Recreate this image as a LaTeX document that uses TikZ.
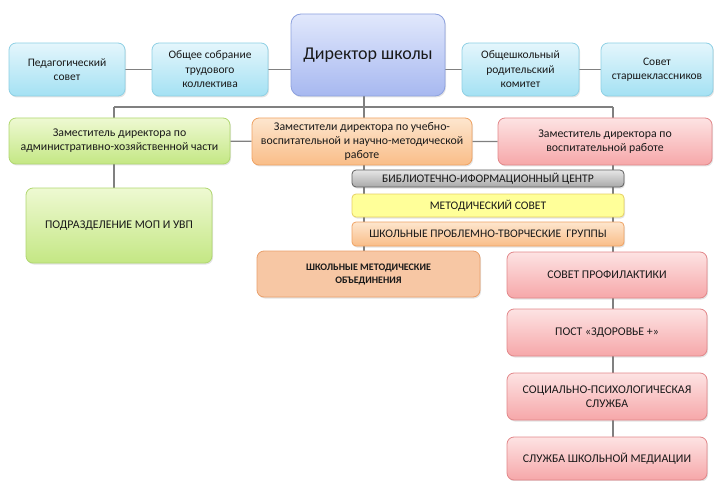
\documentclass[tikz,border=0pt]{standalone}
\usepackage{fontspec}
\setmainfont{Carlito}
\usetikzlibrary{shadows,backgrounds}

\definecolor{blueTop}{HTML}{E4F6FC}
\definecolor{blueBot}{HTML}{A4E1F3}
\definecolor{blueLine}{HTML}{8ED0E4}
\definecolor{dirTop}{HTML}{E1E8FC}
\definecolor{dirBot}{HTML}{A7B8F0}
\definecolor{dirLine}{HTML}{8DA1DE}
\definecolor{greenTop}{HTML}{EEF9D2}
\definecolor{greenBot}{HTML}{C4E784}
\definecolor{greenLine}{HTML}{B0D770}
\definecolor{orangeTop}{HTML}{FDE6CE}
\definecolor{orangeBot}{HTML}{F9BD88}
\definecolor{orangeLine}{HTML}{EFA263}
\definecolor{pinkTop}{HTML}{FDE3E3}
\definecolor{pinkBot}{HTML}{F6A7A9}
\definecolor{pinkLine}{HTML}{E2878A}
\definecolor{greyTop}{HTML}{E6E6E6}
\definecolor{greyBot}{HTML}{A9A9A9}
\definecolor{greyLine}{HTML}{5E5E5E}
\definecolor{yellowFill}{HTML}{FFFF99}
\definecolor{yellowLine}{HTML}{E6CF62}
\definecolor{shmoFill}{HTML}{F7C7A4}
\definecolor{shmoLine}{HTML}{E9A06C}

\begin{document}
\begin{tikzpicture}[x=1pt,y=-1pt]
    \tikzstyle{edge}=[draw,line width=1.1pt,-,black!50]
    \tikzstyle{box}=[draw,line width=.8pt,rounded corners=7pt,align=center,inner sep=2pt,text=black!90,font=\fontsize{11.8}{14}\selectfont,drop shadow={opacity=.22,shadow xshift=1pt,shadow yshift=-1.5pt}]
    \tikzstyle{council}=[box,top color=blueTop,bottom color=blueBot,draw=blueLine,minimum height=53pt,font=\fontsize{11.5}{14.5}\selectfont]
    \tikzstyle{director}=[box,top color=dirTop,bottom color=dirBot,draw=dirLine,rounded corners=10pt,font=\fontsize{18}{20}\selectfont]
    \tikzstyle{zamgreen}=[box,top color=greenTop,bottom color=greenBot,draw=greenLine]
    \tikzstyle{zamorange}=[box,top color=orangeTop,bottom color=orangeBot,draw=orangeLine]
    \tikzstyle{zampink}=[box,top color=pinkTop,bottom color=pinkBot,draw=pinkLine]
    \tikzstyle{strip}=[box,rounded corners=4pt,inner sep=1pt,minimum width=272pt,font=\fontsize{11.6}{12}\selectfont]
    \useasboundingbox (0,0) rectangle (714,481);
    % top row
    \node[council,minimum width=116pt] (ped) at (67,69.5) {Педагогический\\совет};
    \node[council,minimum width=116pt] (sobr) at (210,69.5) {Общее собрание\\трудового\\коллектива};
    \node[director,minimum width=154pt,minimum height=82pt] (dir) at (368,55) {Директор школы};
    \node[council,minimum width=117pt] (komitet) at (520.5,69.5) {Общешкольный\\родительский\\комитет};
    \node[council,minimum width=112pt] (starsh) at (657,69.5) {Совет\\старшеклассников};
    % deputies
    \node[zamgreen,minimum width=221pt,minimum height=46pt] (zamahch) at (119.5,141) {Заместитель директора по\\административно-хозяйственной части};
    \node[zamorange,minimum width=220pt,minimum height=47pt] (zamuvr) at (362,141.5) {Заместители директора по учебно-\\воспитательной и научно-методической\\работе};
    \node[zampink,minimum width=214pt,minimum height=47pt] (zamvr) at (605,141.5) {Заместитель директора по\\воспитательной работе};
    \node[zamgreen,minimum width=186pt,minimum height=75pt] (mop) at (119,225.5) {ПОДРАЗДЕЛЕНИЕ МОП И УВП};
    % strips
    \node[strip,top color=greyTop,bottom color=greyBot,draw=greyLine,minimum height=17pt] (bic) at (488,178.5) {БИБЛИОТЕЧНО-ИФОРМАЦИОННЫЙ ЦЕНТР};
    \node[strip,fill=yellowFill,draw=yellowLine,minimum height=23pt] (metsovet) at (488,205.5) {МЕТОДИЧЕСКИЙ СОВЕТ};
    \node[strip,top color=orangeTop,bottom color=orangeBot,draw=orangeLine,minimum height=24pt] (grupp) at (488,234) {ШКОЛЬНЫЕ ПРОБЛЕМНО-ТВОРЧЕСКИЕ\ \ ГРУППЫ};
    \node[box,fill=shmoFill,draw=shmoLine,minimum width=223pt,minimum height=46pt,font=\bfseries\fontsize{10}{13}\selectfont] (shmo) at (368.5,274) {ШКОЛЬНЫЕ МЕТОДИЧЕСКИЕ\\ОБЪЕДИНЕНИЯ};
    % pink column
    \node[zampink,minimum width=200pt,minimum height=46pt] (profil) at (607,275) {СОВЕТ ПРОФИЛАКТИКИ};
    \node[zampink,minimum width=200pt,minimum height=47pt] (post) at (607,332.5) {ПОСТ «ЗДОРОВЬЕ +»};
    \node[zampink,minimum width=200pt,minimum height=47pt] (socpsy) at (607,396.5) {СОЦИАЛЬНО-ПСИХОЛОГИЧЕСКАЯ\\СЛУЖБА};
    \node[zampink,minimum width=200pt,minimum height=43pt] (media) at (607,458.5) {СЛУЖБА ШКОЛЬНОЙ МЕДИАЦИИ};
    % connectors
    \coordinate (leftbus) at (114,107);
    \coordinate (midbus) at (364,107);
    \coordinate (rightbus) at (613,107);
    \begin{scope}[on background layer]
        \draw[edge] (ped) -- (sobr);
        \draw[edge] (sobr) -- (sobr -| dir);
        \draw[edge] (dir |- komitet) -- (komitet) -- (starsh);
        \draw[edge] (midbus |- dir) -- (midbus);
        \draw[edge] (leftbus) -- (rightbus);
        \draw[edge] (leftbus) -- (leftbus |- mop.north);
        \draw[edge] (midbus) -- (midbus |- shmo.north);
        \draw[edge] (rightbus) -- (rightbus |- media.north);
        \draw[edge] (zamahch) -- (zamuvr) -- (zamvr);
    \end{scope}
\end{tikzpicture}
\end{document}
